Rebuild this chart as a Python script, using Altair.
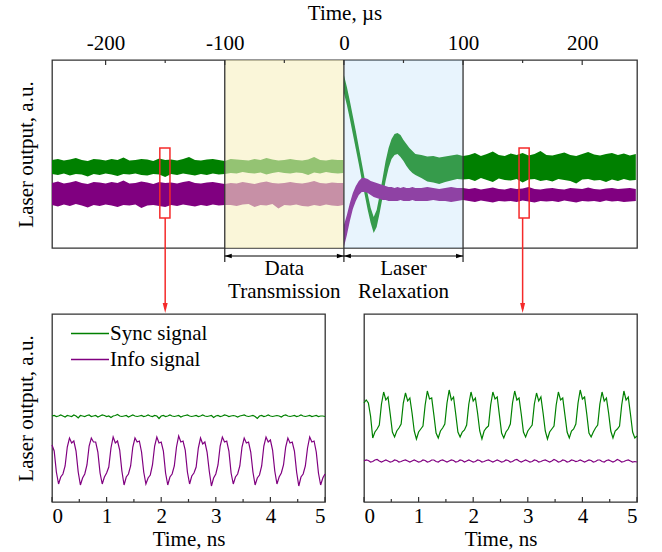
import altair as alt
import pandas as pd

# ---------------- top panel (time in microseconds) ----------------
top_time = [
    -245, -240, -235, -230, -225, -220, -215, -210, -205, -200,
    -195, -190, -185, -180, -175, -170, -165, -160, -155, -150,
    -145, -140, -135, -130, -125, -120, -115, -110, -105, -100,
    -95, -90, -85, -80, -75, -70, -65, -60, -55, -50,
    -45, -40, -35, -30, -25, -20, -15, -10, -5, -0.5,
    0, 2.5, 5, 7.5, 10, 12.5, 15, 17.5, 20, 22.5,
    25, 27.5, 30, 32.5, 35, 37.5, 40, 42.5, 45, 47.5,
    50, 52.5, 55, 57.5, 60, 65, 70, 75, 80, 85,
    90, 95, 100, 105, 110, 115, 120, 125, 130, 135,
    140, 145, 150, 155, 160, 165, 170, 175, 180, 185,
    190, 195, 200, 205, 210, 215, 220, 225, 230, 235,
    240, 245,
]
sync_hi = [
    88, 89, 87.5, 88.5, 90, 88, 87, 89, 88.5, 87.5,
    89, 88, 90.5, 87.5, 88, 89, 88.5, 87, 89.5, 88,
    88.5, 87.5, 89, 91, 88, 87.5, 88.5, 89, 88, 87,
    89, 88.5, 88, 87.5, 89, 88, 90, 88.5, 87.5, 88,
    89, 88, 87.5, 88.5, 91, 88, 87.5, 88.5, 88, 88,
    173, 161, 147, 132, 117, 101, 85, 69, 54, 40,
    31, 38, 53, 70, 87, 100, 109, 114, 115, 113,
    108, 104, 100, 97, 94, 93, 91.5, 92, 90.5, 91.5,
    92.5, 93.5, 92,
    93, 95, 92, 94, 96.5, 93, 92, 94.5, 93, 95,
    92.5, 94, 97, 93, 92.5, 94, 95.5, 93, 92, 94,
    96, 93.5, 92.5, 94, 95, 93, 94.5, 92.5, 94,
]
sync_lo = [
    74, 73, 74.5, 72.5, 74, 73.5, 71.5, 74, 73, 74.5,
    73.5, 72, 74, 73.5, 74.5, 73, 72.5, 74, 73.5, 71,
    74, 73, 74.5, 73.5, 72.5, 74, 73, 74.5, 73.5, 74,
    75, 74.5, 76, 75, 74.5, 75.5, 73.5, 75, 76, 75,
    74.5, 75.5, 75, 73, 75.5, 74.5, 76, 75, 74.5, 75,
    155, 143, 129, 114, 99, 84, 68, 53, 38, 25,
    15, 21, 35, 51, 67, 80, 89, 93, 94, 91,
    87, 82, 78, 75, 73, 70, 66.5, 65.5, 64, 66,
    67.5, 69, 68.5,
    69, 67, 70, 68, 66, 69.5, 68, 67.5, 69, 65.5,
    68.5, 69, 67, 68, 66.5, 69, 68, 67, 64.5, 68.5,
    69, 67.5, 68, 66, 68.5, 67, 69, 67.5, 68,
]
info_hi = [
    65, 66.5, 64.5, 65.5, 67, 65, 64, 66, 65.5, 64.5,
    66, 65, 67.5, 64.5, 65, 66.5, 65.5, 64, 66, 65,
    65.5, 64.5, 66, 67, 65, 64.5, 65.5, 66, 65, 64,
    65, 64.5, 66, 65, 64, 65.5, 66.5, 65, 64.5, 65,
    66, 65, 64.5, 65.5, 67, 65, 64.5, 65.5, 65, 65,
    23, 33, 45, 55, 62, 67, 70, 70, 69, 67,
    66, 65, 64, 63, 62, 61, 61, 60, 61, 60,
    61, 60, 60, 61, 60, 60, 61, 60, 59, 60,
    61, 60, 60,
    59, 60, 58.5, 59.5, 60.5, 59, 58.5, 60, 59, 59.5,
    61, 59, 58.5, 59.5, 60, 59, 58.5, 60, 59.5, 59,
    60.5, 59, 58.5, 59.5, 60, 59, 59.5, 60, 59,
]
info_lo = [
    43, 41.5, 43.5, 42, 44, 42.5, 40.5, 43, 42, 43.5,
    42.5, 41, 43, 42.5, 43.5, 40, 42.5, 43, 42, 41,
    43, 42, 43.5, 42.5, 41.5, 43, 42, 43.5, 42.5, 43,
    43, 42, 43.5, 44, 41, 43, 42.5, 44, 39.5, 43,
    42.5, 43.5, 42, 41.5, 43, 42, 43.5, 42.5, 42, 43,
    1, 13, 27, 39, 47, 53, 56, 56, 55, 53,
    51, 50, 49, 48, 48, 47, 47, 47, 47, 48,
    47, 47, 47, 48, 47, 47, 47, 48, 47, 47,
    46, 47, 48,
    47, 46, 47.5, 46.5, 45.5, 47, 46.5, 47, 46, 47.5,
    46.5, 45.5, 47, 46.5, 47, 46, 47.5, 46.5, 45.5, 47,
    46.5, 47, 46, 47.5, 46.5, 47, 46, 46.5, 47,
]

zone_start = [-100, 0]
zone_end = [0, 100]
zone_center = [-50, 50]
zone_label = ["Data\nTransmission", "Laser\nRelaxation"]
boundaries = [-100, 0, 100]
top_major = [-200, -100, 0, 100, 200]
top_minor = [-150, -50, 50, 150]

zoom_center = [-150, 150]
zoom_t0 = [-154.5, 147]
zoom_t1 = [-146, 155.5]
zoom_lo = [30, 30]
zoom_hi = [100, 100]

# ---------------- bottom panels (time in nanoseconds) ----------------
ns_time = [
    0, 0.04, 0.08, 0.12, 0.16, 0.2, 0.24, 0.28, 0.32, 0.36,
    0.4, 0.44, 0.48, 0.52, 0.56, 0.6, 0.64, 0.68, 0.72, 0.76,
    0.8, 0.84, 0.88, 0.92, 0.96, 1.0, 1.04, 1.08, 1.12, 1.16,
    1.2, 1.24, 1.28, 1.32, 1.36, 1.4, 1.44, 1.48, 1.52, 1.56,
    1.6, 1.64, 1.68, 1.72, 1.76, 1.8, 1.84, 1.88, 1.92, 1.96,
    2.0, 2.04, 2.08, 2.12, 2.16, 2.2, 2.24, 2.28, 2.32, 2.36,
    2.4, 2.44, 2.48, 2.52, 2.56, 2.6, 2.64, 2.68, 2.72, 2.76,
    2.8, 2.84, 2.88, 2.92, 2.96, 3.0, 3.04, 3.08, 3.12, 3.16,
    3.2, 3.24, 3.28, 3.32, 3.36, 3.4, 3.44, 3.48, 3.52, 3.56,
    3.6, 3.64, 3.68, 3.72, 3.76, 3.8, 3.84, 3.88, 3.92, 3.96,
    4.0, 4.04, 4.08, 4.12, 4.16, 4.2, 4.24, 4.28, 4.32, 4.36,
    4.4, 4.44, 4.48, 4.52, 4.56, 4.6, 4.64, 4.68, 4.72, 4.76,
    4.8, 4.84, 4.88, 4.92, 4.96, 5.0,
]
left_sync = [
    86, 86.5, 85.5, 86, 87, 86, 85, 86.5, 86, 85.5,
    87, 86, 84, 86.5, 86, 85.5, 86.5, 87, 85.5, 86,
    86.5, 85, 86, 87, 86.5, 85.5, 86, 84.5, 86, 86.5,
    87.5, 86, 85.5, 86, 86.5, 85, 86, 87, 86, 85.5,
    86, 86.5, 85.5, 86, 87, 86, 85.5, 86.5, 86, 83.5,
    86, 86.5, 85.5, 86, 87, 86, 85.5, 86, 86.5, 85,
    86, 86.5, 87, 86, 85.5, 86, 86.5, 85.5, 86, 87,
    86, 85.5, 86, 86.5, 84.5, 86, 86.5, 85.5, 86, 87,
    86.5, 85.5, 86, 86.5, 86, 85, 86, 86.5, 87, 86,
    85.5, 86, 86.5, 85.5, 83.5, 86, 86.5, 85.5, 86, 87,
    86, 85.5, 86, 86.5, 86, 85, 86.5, 87, 86, 85.5,
    86, 86.5, 85.5, 86, 87, 86, 85.5, 86, 86.5, 85.5,
    86, 86.5, 85.5, 86, 86, 85.5,
]
left_info = [
    57, 51, 30,
    18, 25, 28, 36, 55, 64, 59, 61, 51, 30,
    17, 24, 28, 37, 56, 64, 60, 60, 50, 29,
    18, 25, 29, 35, 54, 65, 59, 61, 52, 31,
    17, 25, 28, 36, 55, 64, 60, 61, 50, 30,
    18, 24, 27, 37, 56, 65, 59, 60, 51, 29,
    17, 25, 28, 36, 55, 66, 60, 61, 52, 30,
    18, 26, 29, 35, 54, 64, 58, 60, 50, 31,
    16, 24, 28, 37, 56, 65, 60, 61, 51, 29,
    18, 25, 28, 36, 55, 64, 59, 60, 50, 30,
    17, 24, 27, 36, 56, 65, 60, 62, 52, 31,
    18, 25, 29, 37, 55, 64, 59, 60, 51, 30,
    16, 25, 28, 36, 54, 65, 60, 61, 50, 29,
    17, 24, 28,
]
right_sync = [
    99, 102, 99, 86,
    64, 70, 73, 77, 98, 110, 102, 105, 88, 70,
    65, 71, 74, 78, 99, 109, 101, 104, 89, 71,
    63, 70, 73, 76, 97, 111, 103, 104, 87, 69,
    64, 71, 74, 78, 99, 112, 102, 105, 88, 70,
    65, 70, 72, 77, 98, 110, 101, 104, 89, 71,
    63, 71, 74, 76, 97, 110, 103, 105, 87, 69,
    64, 70, 73, 78, 99, 111, 102, 104, 88, 70,
    65, 71, 74, 77, 98, 109, 101, 105, 89, 71,
    63, 70, 73, 76, 97, 110, 102, 104, 87, 70,
    64, 71, 73, 78, 99, 112, 103, 105, 88, 69,
    65, 70, 74, 77, 98, 110, 101, 104, 89, 71,
    64, 71, 73, 76, 97, 111, 102, 105, 88, 70,
    64, 66,
]
right_info = [
    41, 42, 41.5, 40, 40.5, 42, 42.5, 41, 40, 41,
    42, 41, 40, 40.5, 42, 41.5, 40, 40.5, 41.5, 42,
    41, 40, 41, 42, 41, 40, 40.5, 42, 41.5, 40,
    40.5, 42, 42, 40.5, 40, 41.5, 42, 41, 40, 41,
    42, 41.5, 40, 40.5, 42, 41.5, 40, 41, 42, 41,
    40, 40.5, 42, 41.5, 40, 40.5, 41.5, 42, 41, 40,
    41, 42, 41, 40, 40.5, 42, 41.5, 40, 40.5, 42,
    42.5, 41, 40, 41, 42, 41, 40, 40.5, 42, 41.5,
    40, 40.5, 41.5, 42, 41, 40, 41, 42.5, 41.5, 40,
    40.5, 42, 41.5, 40, 40.5, 42, 41.5, 40.5, 41, 42,
    41, 40, 41, 42, 41.5, 40, 40.5, 42, 42, 40.5,
    40, 41.5, 42, 41, 40, 41, 42.5, 41.5, 40, 40.5,
    41.5, 42, 41, 40, 40.5, 40,
]
series_names = ["Sync signal", "Info signal"]
ns_major = [0, 1, 2, 3, 4, 5]
ns_minor = [0.5, 1.5, 2.5, 3.5, 4.5]

# ---------------- styles ----------------
FONT = "Liberation Serif"
GREEN = "#008000"
PURPLE = "#800080"
RED = "#f52a2a"
FRAME = "#333333"

top_df = pd.DataFrame({"t": top_time, "sync_hi": sync_hi, "sync_lo": sync_lo,
                       "info_hi": info_hi, "info_lo": info_lo})
zones_df = pd.DataFrame({"a": zone_start, "b": zone_end, "c": zone_center, "label": zone_label})
bound_df = pd.DataFrame({"t": boundaries})
tmaj_df = pd.DataFrame({"t": top_major})
tmin_df = pd.DataFrame({"t": top_minor})
zoom_df = pd.DataFrame({"tc": zoom_center, "t0": zoom_t0, "t1": zoom_t1, "lo": zoom_lo, "hi": zoom_hi})

xs_top = alt.Scale(domain=[-245, 246], nice=False, zero=False)
ys = alt.Scale(domain=[0, 188], nice=False, zero=False)
top_xaxis = alt.Axis(orient="top", values=top_major, labelExpr="toString(datum.value)",
                     title="Time, µs", labelPadding=7, titlePadding=9)
y_axis = alt.Axis(title="Laser output, a.u.", labels=False, titlePadding=16)


def xt(field):
    return alt.X(field, type="quantitative", scale=xs_top, axis=top_xaxis)


def yt(field):
    return alt.Y(field, type="quantitative", scale=ys, axis=y_axis)


sync_area = alt.Chart(top_df).mark_area(color=GREEN).encode(
    x=xt("t"), y=yt("sync_lo"), y2="sync_hi")
info_area = alt.Chart(top_df).mark_area(color=PURPLE).encode(
    x=xt("t"), y=yt("info_lo"), y2="info_hi")
yellow = alt.Chart(zones_df).transform_filter(alt.datum.a < 0).mark_rect(
    color="#f7f0c0", opacity=0.6).encode(x=xt("a"), x2="b", y=alt.value(0), y2=alt.value(188))
blue = alt.Chart(zones_df).transform_filter(alt.datum.a >= 0).mark_rect(
    color="#b2daf8", opacity=0.3).encode(x=xt("a"), x2="b", y=alt.value(0), y2=alt.value(188))
bounds_rule = alt.Chart(bound_df).mark_rule(color=FRAME, strokeWidth=1.3).encode(
    x=xt("t"), y=alt.value(0), y2=alt.value(202))
tick_major = alt.Chart(tmaj_df).mark_rule(color=FRAME, strokeWidth=1.2).encode(
    x=xt("t"), y=alt.value(0), y2=alt.value(5))
tick_minor = alt.Chart(tmin_df).mark_rule(color=FRAME, strokeWidth=1.2).encode(
    x=xt("t"), y=alt.value(0), y2=alt.value(3))
zoom_box = alt.Chart(zoom_df).mark_rect(fillOpacity=0, stroke=RED, strokeWidth=1.5).encode(
    x=xt("t0"), x2="t1", y=yt("lo"), y2="hi")
zoom_line = alt.Chart(zoom_df).mark_rule(color=RED, strokeWidth=1.5).encode(
    x=xt("tc"), y=yt("lo"), y2=alt.value(249))
zoom_head = alt.Chart(zoom_df).mark_point(
    shape="M0,1L-0.5,-1L0.5,-1Z", filled=True, color=RED, opacity=1, size=100).encode(
    x=xt("tc"), y=alt.value(248))
dim_line = alt.Chart(zones_df).mark_rule(color="black", strokeWidth=1).encode(
    x=xt("a"), x2="b", y=alt.value(196))
dim_head_l = alt.Chart(zones_df).mark_point(
    shape="M0,0L1,-0.32L1,0.32Z", filled=True, color="black", opacity=1, size=196).encode(
    x=xt("a"), y=alt.value(196))
dim_head_r = alt.Chart(zones_df).mark_point(
    shape="M0,0L-1,-0.32L-1,0.32Z", filled=True, color="black", opacity=1, size=196).encode(
    x=xt("b"), y=alt.value(196))
dim_text = alt.Chart(zones_df).mark_text(
    font=FONT, fontSize=21, lineBreak="\n", lineHeight=23, baseline="middle",
    align="center", color="black").encode(x=xt("c"), y=alt.value(209), text="label:N")

top = alt.layer(sync_area, info_area, yellow, blue, bounds_rule, tick_major, tick_minor,
                zoom_box, zoom_line, zoom_head, dim_line, dim_head_l, dim_head_r,
                dim_text).properties(width=585, height=188)

# bottom panels
xs_ns = alt.Scale(domain=[0, 5], nice=False, zero=False)
ns_axis = alt.Axis(values=ns_major, title="Time, ns", labelPadding=3, titlePadding=2)
nmaj_df = pd.DataFrame({"t": ns_major})
nmin_df = pd.DataFrame({"t": ns_minor})
color_scale = alt.Scale(domain=series_names, range=[GREEN, PURPLE])


def panel(sync_vals, info_vals, with_y_axis):
    df = pd.DataFrame({"t": ns_time + ns_time, "v": sync_vals + info_vals,
                       "series": [series_names[0]] * len(ns_time) + [series_names[1]] * len(ns_time)})
    if with_y_axis:
        legend = alt.Legend(orient="none", legendX=18, legendY=9, title=None,
                            symbolType="stroke", symbolSize=1444, symbolStrokeWidth=1.3,
                            clipHeight=21, labelOffset=0, rowPadding=4, padding=0,
                            labelFont=FONT, labelFontSize=21, labelColor="black",
                            direction="vertical")
        yenc = alt.Y("v:Q", scale=ys, axis=y_axis)
    else:
        legend = None
        yenc = alt.Y("v:Q", scale=ys, axis=None)
    xenc = alt.X("t:Q", scale=xs_ns, axis=ns_axis)
    lines = alt.Chart(df).mark_line(strokeWidth=1.2).encode(
        x=xenc, y=yenc,
        color=alt.Color("series:N", scale=color_scale, legend=legend, sort=series_names))
    tmaj = alt.Chart(nmaj_df).mark_rule(color=FRAME, strokeWidth=1.2).encode(
        x=xenc, y=alt.value(188), y2=alt.value(183))
    tmin = alt.Chart(nmin_df).mark_rule(color=FRAME, strokeWidth=1.2).encode(
        x=xenc, y=alt.value(188), y2=alt.value(185))
    return alt.layer(lines, tmaj, tmin).properties(width=273, height=188)


bottom = alt.hconcat(panel(left_sync, left_info, True), panel(right_sync, right_info, False),
                     spacing=39, bounds="flush").resolve_scale(color="independent")

chart = alt.vconcat(top, bottom, spacing=66, bounds="flush").properties(
    padding={"left": 14, "top": 1, "right": 5, "bottom": 5}, background="white"
).configure_view(stroke=FRAME, strokeWidth=1.3).configure_axis(
    grid=False, domain=False, ticks=False, tickSize=0,
    labelFont=FONT, labelFontSize=21, labelColor="black",
    titleFont=FONT, titleFontSize=21, titleFontWeight="normal", titleColor="black")

chart.save("out.html", embed_options={"renderer": "svg", "actions": False})
